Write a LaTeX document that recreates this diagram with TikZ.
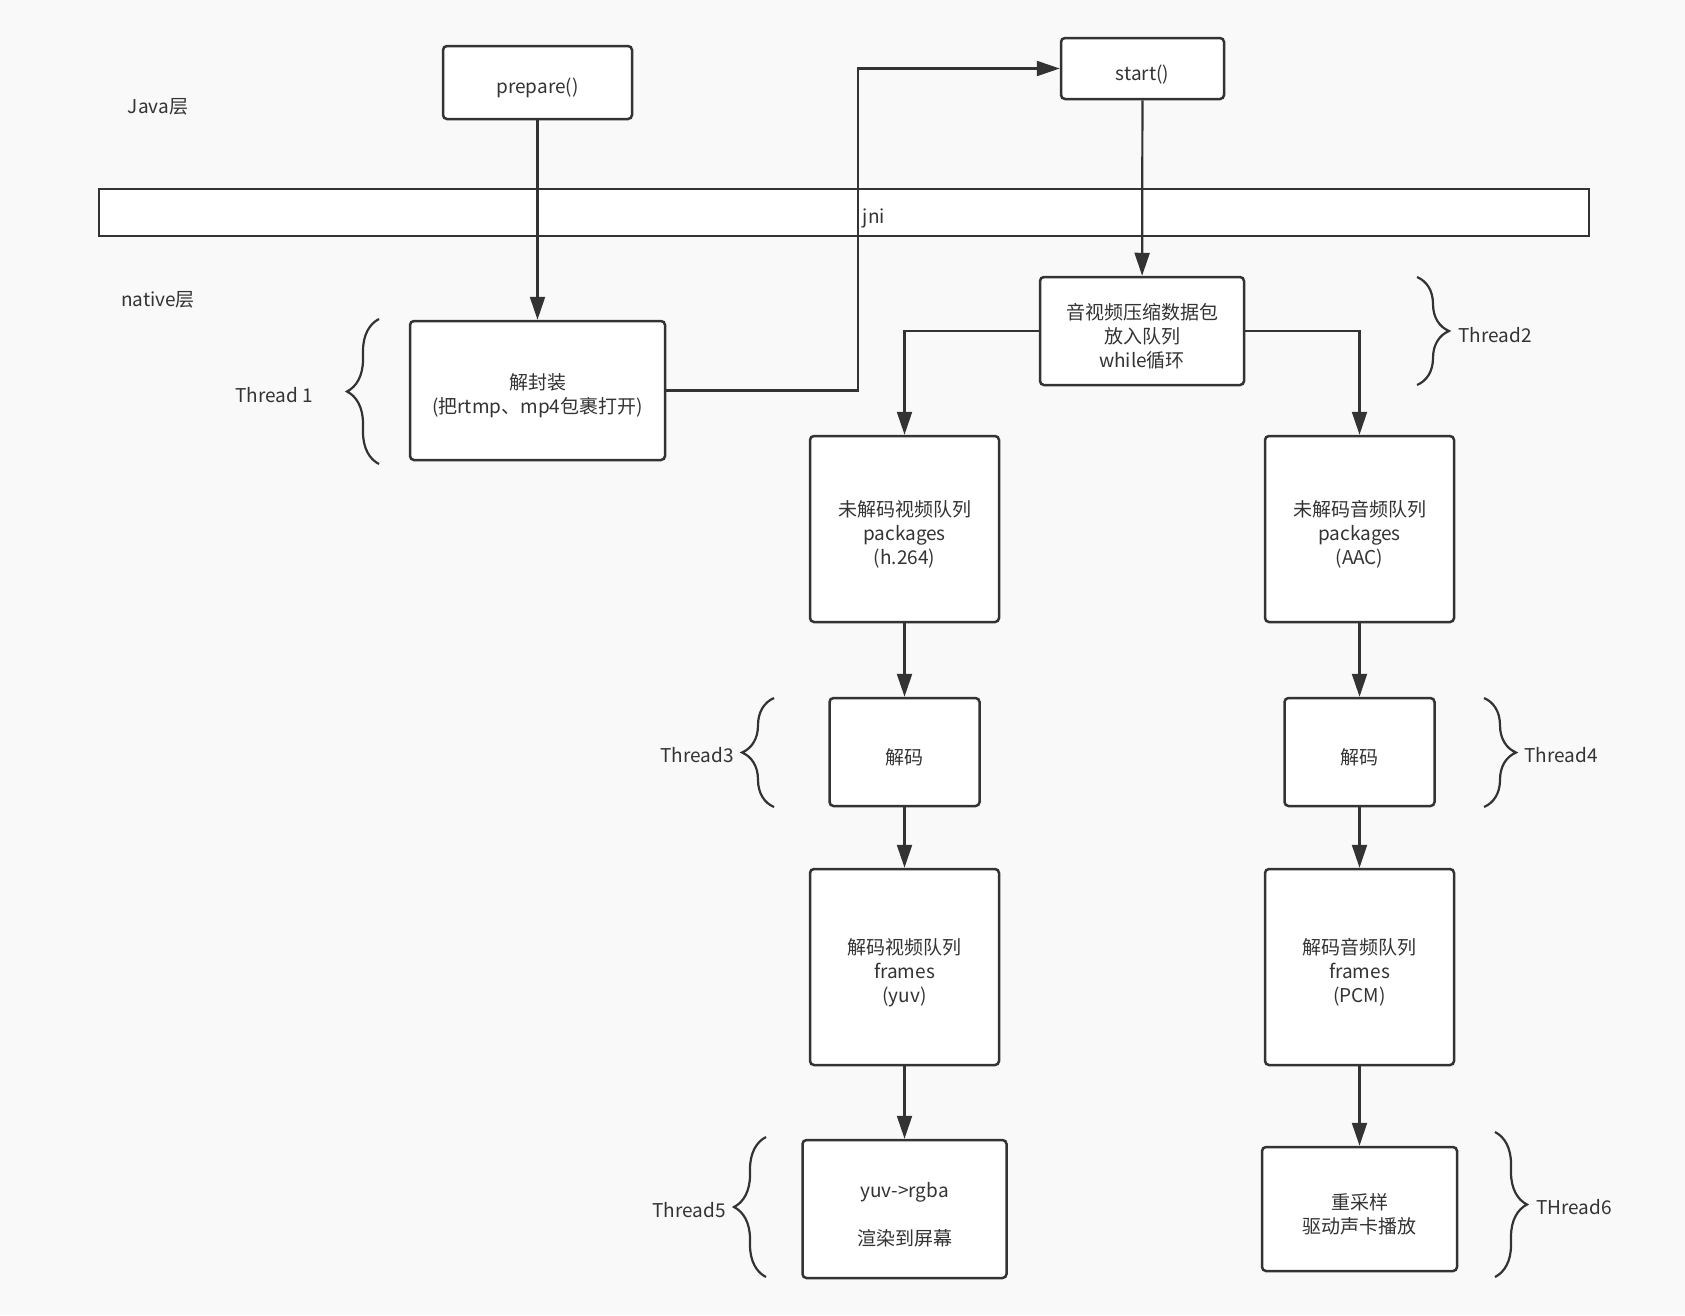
\documentclass[tikz,border=0pt]{standalone}
\usepackage{fontspec}
\setmainfont{Noto Sans CJK SC}
\usepackage{tikz}
\usetikzlibrary{arrows.meta,decorations.pathreplacing}
\definecolor{ink}{HTML}{333333}
\definecolor{paper}{HTML}{F9F9F9}
\newcommand{\lift}{\rule{0pt}{27pt}}
\tikzstyle{box} = [draw=ink, fill=white, line width=2.5pt, rounded corners=4pt, align=center, inner sep=0pt]
\tikzstyle{line} = [draw=ink, line width=2.2pt, -{Triangle[length=23pt,width=15pt]}]
\tikzstyle{tag} = [text=ink, inner sep=0pt]
\tikzstyle{curly} = [draw=ink, line width=2.2pt, decorate, decoration={brace, amplitude=32pt}]

\begin{document}
\begin{tikzpicture}[x=1pt, y=-1pt, font=\fontsize{19}{24}\selectfont, text=ink]
    \fill[paper] (0,0) rectangle (1685,1315);
    \useasboundingbox (0,0) rectangle (1685,1315);

        % java layer
        \node[tag] (javalbl) at (158,107) {Java层};
        \node[box, minimum width=189pt, minimum height=73pt] (prepare) at (537.5,82.5) {\lift prepare()};
        \node[box, minimum width=163pt, minimum height=61pt] (start) at (1142.5,68.5) {\lift start()};

        % jni bar
        \node[draw=ink, fill=white, line width=2.5pt, minimum width=1490pt, minimum height=47pt, inner sep=0pt] (jnibar) at (844,212.5) {};
        \node[tag] (jni) at (874,218) {jni};

        % native layer
        \node[tag] (nativelbl) at (158,300) {native层};
        \node[box, minimum width=255pt, minimum height=139pt] (demux) at (537.5,390.5) {\lift 解封装\\(把rtmp、mp4包裹打开)};
        \node[box, minimum width=204pt, minimum height=108pt] (queue) at (1142,331) {\lift 音视频压缩数据包\\放入队列\\while循环};

        \node[box, minimum width=189pt, minimum height=186pt] (vpkt) at (904.5,529) {\lift 未解码视频队列\\packages\\(h.264)};
        \node[box, minimum width=189pt, minimum height=186pt] (apkt) at (1359.5,529) {\lift 未解码音频队列\\packages\\(AAC)};
        \node[box, minimum width=150pt, minimum height=108pt] (vdec) at (904.5,752) {\lift 解码};
        \node[box, minimum width=150pt, minimum height=108pt] (adec) at (1359.5,752) {\lift 解码};
        \node[box, minimum width=189pt, minimum height=196pt] (vfrm) at (904.5,967) {\lift 解码视频队列\\frames\\(yuv)};
        \node[box, minimum width=189pt, minimum height=196pt] (afrm) at (1359.5,967) {\lift 解码音频队列\\frames\\(PCM)};
        \node[box, minimum width=204pt, minimum height=138pt] (render) at (904.5,1209) {\lift yuv->rgba\\[24pt]渲染到屏幕};
        \node[box, minimum width=195pt, minimum height=124pt] (play) at (1359.5,1209) {\lift 重采样\\驱动声卡播放};

    % connectors
    \coordinate (jx) at (858,0);
    \draw[line] (prepare) -- (demux);
    \draw[line] (demux.east) -- (demux.east -| jx) |- (start.west);
    \draw[line] (start) -- (queue);
    \draw[line] (queue.west) -| (vpkt.north);
    \draw[line] (queue.east) -| (apkt.north);
    \draw[line] (vpkt) -- (vdec);
    \draw[line] (apkt) -- (adec);
    \draw[line] (vdec) -- (vfrm);
    \draw[line] (adec) -- (afrm);
    \draw[line] (vfrm) -- (render);
    \draw[line] (afrm) -- (play);

    % threads
    \draw[curly] (379,464) -- (379,319);
    \node[tag] (t1) at (274,395) {Thread 1};
    \draw[curly] (1417,277) -- (1417,385);
    \node[tag] (t2) at (1495,335) {Thread2};
    \draw[curly] (774,807) -- (774,698);
    \node[tag] (t3) at (697,755) {Thread3};
    \draw[curly] (1484,698) -- (1484,807);
    \node[tag] (t4) at (1561,755) {Thread4};
    \draw[curly] (766,1277) -- (766,1137);
    \node[tag] (t5) at (689,1210) {Thread5};
    \draw[curly] (1495,1132) -- (1495,1277);
    \node[tag] (t6) at (1574,1207) {THread6};

\end{tikzpicture}
\end{document}
